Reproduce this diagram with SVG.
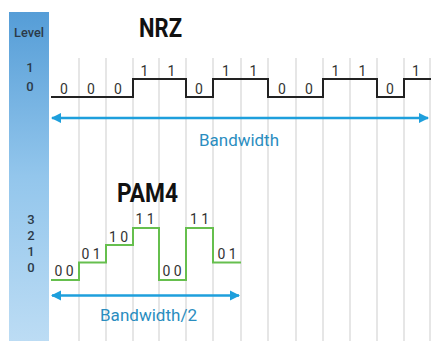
<svg xmlns="http://www.w3.org/2000/svg" width="432" height="341" viewBox="0 0 432 341">
  <defs>
    <linearGradient id="barGrad" x1="0" y1="0" x2="0" y2="1">
      <stop offset="0" stop-color="#559dd7"/>
      <stop offset="0.5" stop-color="#93c6ec"/>
      <stop offset="1" stop-color="#bcdcf4"/>
    </linearGradient>
    <marker id="bwHead" viewBox="0 0 10 10" refX="9" refY="5" markerWidth="4" markerHeight="4" orient="auto-start-reverse" markerUnits="strokeWidth">
      <path d="M0,0 L10,5 L0,10 Z" fill="#1e9fdc"/>
    </marker>
  </defs>
  <style>
    .grid { stroke: #d9d9d9; stroke-width: 1.3; }
    .lvl { font-family: Roboto, "Liberation Sans", sans-serif; font-size: 13px; font-weight: 500; fill: #2c3a48; text-anchor: middle; }
    .bit { font-family: Roboto, "Liberation Sans", sans-serif; font-size: 14px; fill: #333333; text-anchor: middle; }
    .title { font-family: Roboto, "Liberation Sans", sans-serif; font-size: 26px; font-weight: bold; fill: #111111; text-anchor: middle; }
    .bwtext { font-family: Roboto, "Liberation Sans", sans-serif; font-size: 17px; fill: #2a8dbf; text-anchor: middle; }
    .nrz { fill: none; stroke: #222222; stroke-width: 2; }
    .pam { fill: none; stroke: #66bf4e; stroke-width: 2; }
    .arrow { stroke: #1e9fdc; stroke-width: 2.6; marker-start: url(#bwHead); marker-end: url(#bwHead); }
  </style>
  <rect width="432" height="341" fill="#ffffff"/>

  <g id="level-bar">
    <rect x="9" y="12" width="40" height="329" fill="url(#barGrad)"/>
    <text class="lvl" x="29" y="36.5" textLength="30" lengthAdjust="spacingAndGlyphs">Level</text>
    <text class="lvl" x="30" y="72">1</text>
    <text class="lvl" x="30" y="91">0</text>
    <text class="lvl" x="31" y="224">3</text>
    <text class="lvl" x="31" y="240">2</text>
    <text class="lvl" x="31" y="256">1</text>
    <text class="lvl" x="31" y="272">0</text>
  </g>

  <g id="grid">
    <line class="grid" x1="79" y1="58" x2="79" y2="341"/>
    <line class="grid" x1="106" y1="58" x2="106" y2="341"/>
    <line class="grid" x1="133" y1="58" x2="133" y2="341"/>
    <line class="grid" x1="159" y1="58" x2="159" y2="341"/>
    <line class="grid" x1="186" y1="58" x2="186" y2="341"/>
    <line class="grid" x1="213" y1="58" x2="213" y2="341"/>
    <line class="grid" x1="241" y1="58" x2="241" y2="341"/>
    <line class="grid" x1="268" y1="58" x2="268" y2="341"/>
    <line class="grid" x1="296" y1="58" x2="296" y2="341"/>
    <line class="grid" x1="323" y1="58" x2="323" y2="341"/>
    <line class="grid" x1="350" y1="58" x2="350" y2="341"/>
    <line class="grid" x1="377" y1="58" x2="377" y2="341"/>
    <line class="grid" x1="404" y1="58" x2="404" y2="341"/>
    <line class="grid" x1="430" y1="58" x2="430" y2="341"/>
  </g>

  <g id="nrz">
    <text class="title" x="160.5" y="37" textLength="43" lengthAdjust="spacingAndGlyphs">NRZ</text>
    <path class="nrz" d="M51,97 H133 V79 H186 V97 H213 V79 H268 V97 H323 V79 H377 V97 H404 V79 H431"/>
    <text class="bit" x="64" y="94">0</text>
    <text class="bit" x="91" y="94">0</text>
    <text class="bit" x="118" y="94">0</text>
    <text class="bit" x="144.5" y="76">1</text>
    <text class="bit" x="171.5" y="76">1</text>
    <text class="bit" x="199" y="94">0</text>
    <text class="bit" x="226" y="76">1</text>
    <text class="bit" x="253.5" y="76">1</text>
    <text class="bit" x="282" y="94">0</text>
    <text class="bit" x="309" y="94">0</text>
    <text class="bit" x="335.5" y="76">1</text>
    <text class="bit" x="362.5" y="76">1</text>
    <text class="bit" x="390" y="94">0</text>
    <text class="bit" x="416" y="76">1</text>
  </g>

  <g id="pam4">
    <text class="title" x="147.5" y="202" textLength="61" lengthAdjust="spacingAndGlyphs">PAM4</text>
    <path class="pam" d="M51,280 H79 V262.5 H106 V245 H133 V228 H159 V280 H186 V228 H213 V262.5 H241"/>
    <text class="bit" x="64" y="275.5">0 0</text>
    <text class="bit" x="91" y="258.5">0 1</text>
    <text class="bit" x="118.5" y="241.5">1 0</text>
    <text class="bit" x="145" y="224">1 1</text>
    <text class="bit" x="172" y="275.5">0 0</text>
    <text class="bit" x="199.5" y="224">1 1</text>
    <text class="bit" x="227" y="258.5">0 1</text>
  </g>

  <g id="connectors">
    <line class="arrow" x1="52" y1="118" x2="428" y2="118"/>
    <line class="arrow" x1="52" y1="295.5" x2="239" y2="295.5"/>
  </g>

  <g id="bandwidth-labels">
    <text class="bwtext" x="239" y="146" textLength="80" lengthAdjust="spacingAndGlyphs">Bandwidth</text>
    <text class="bwtext" x="148.5" y="321" textLength="97" lengthAdjust="spacingAndGlyphs">Bandwidth/2</text>
  </g>
</svg>
